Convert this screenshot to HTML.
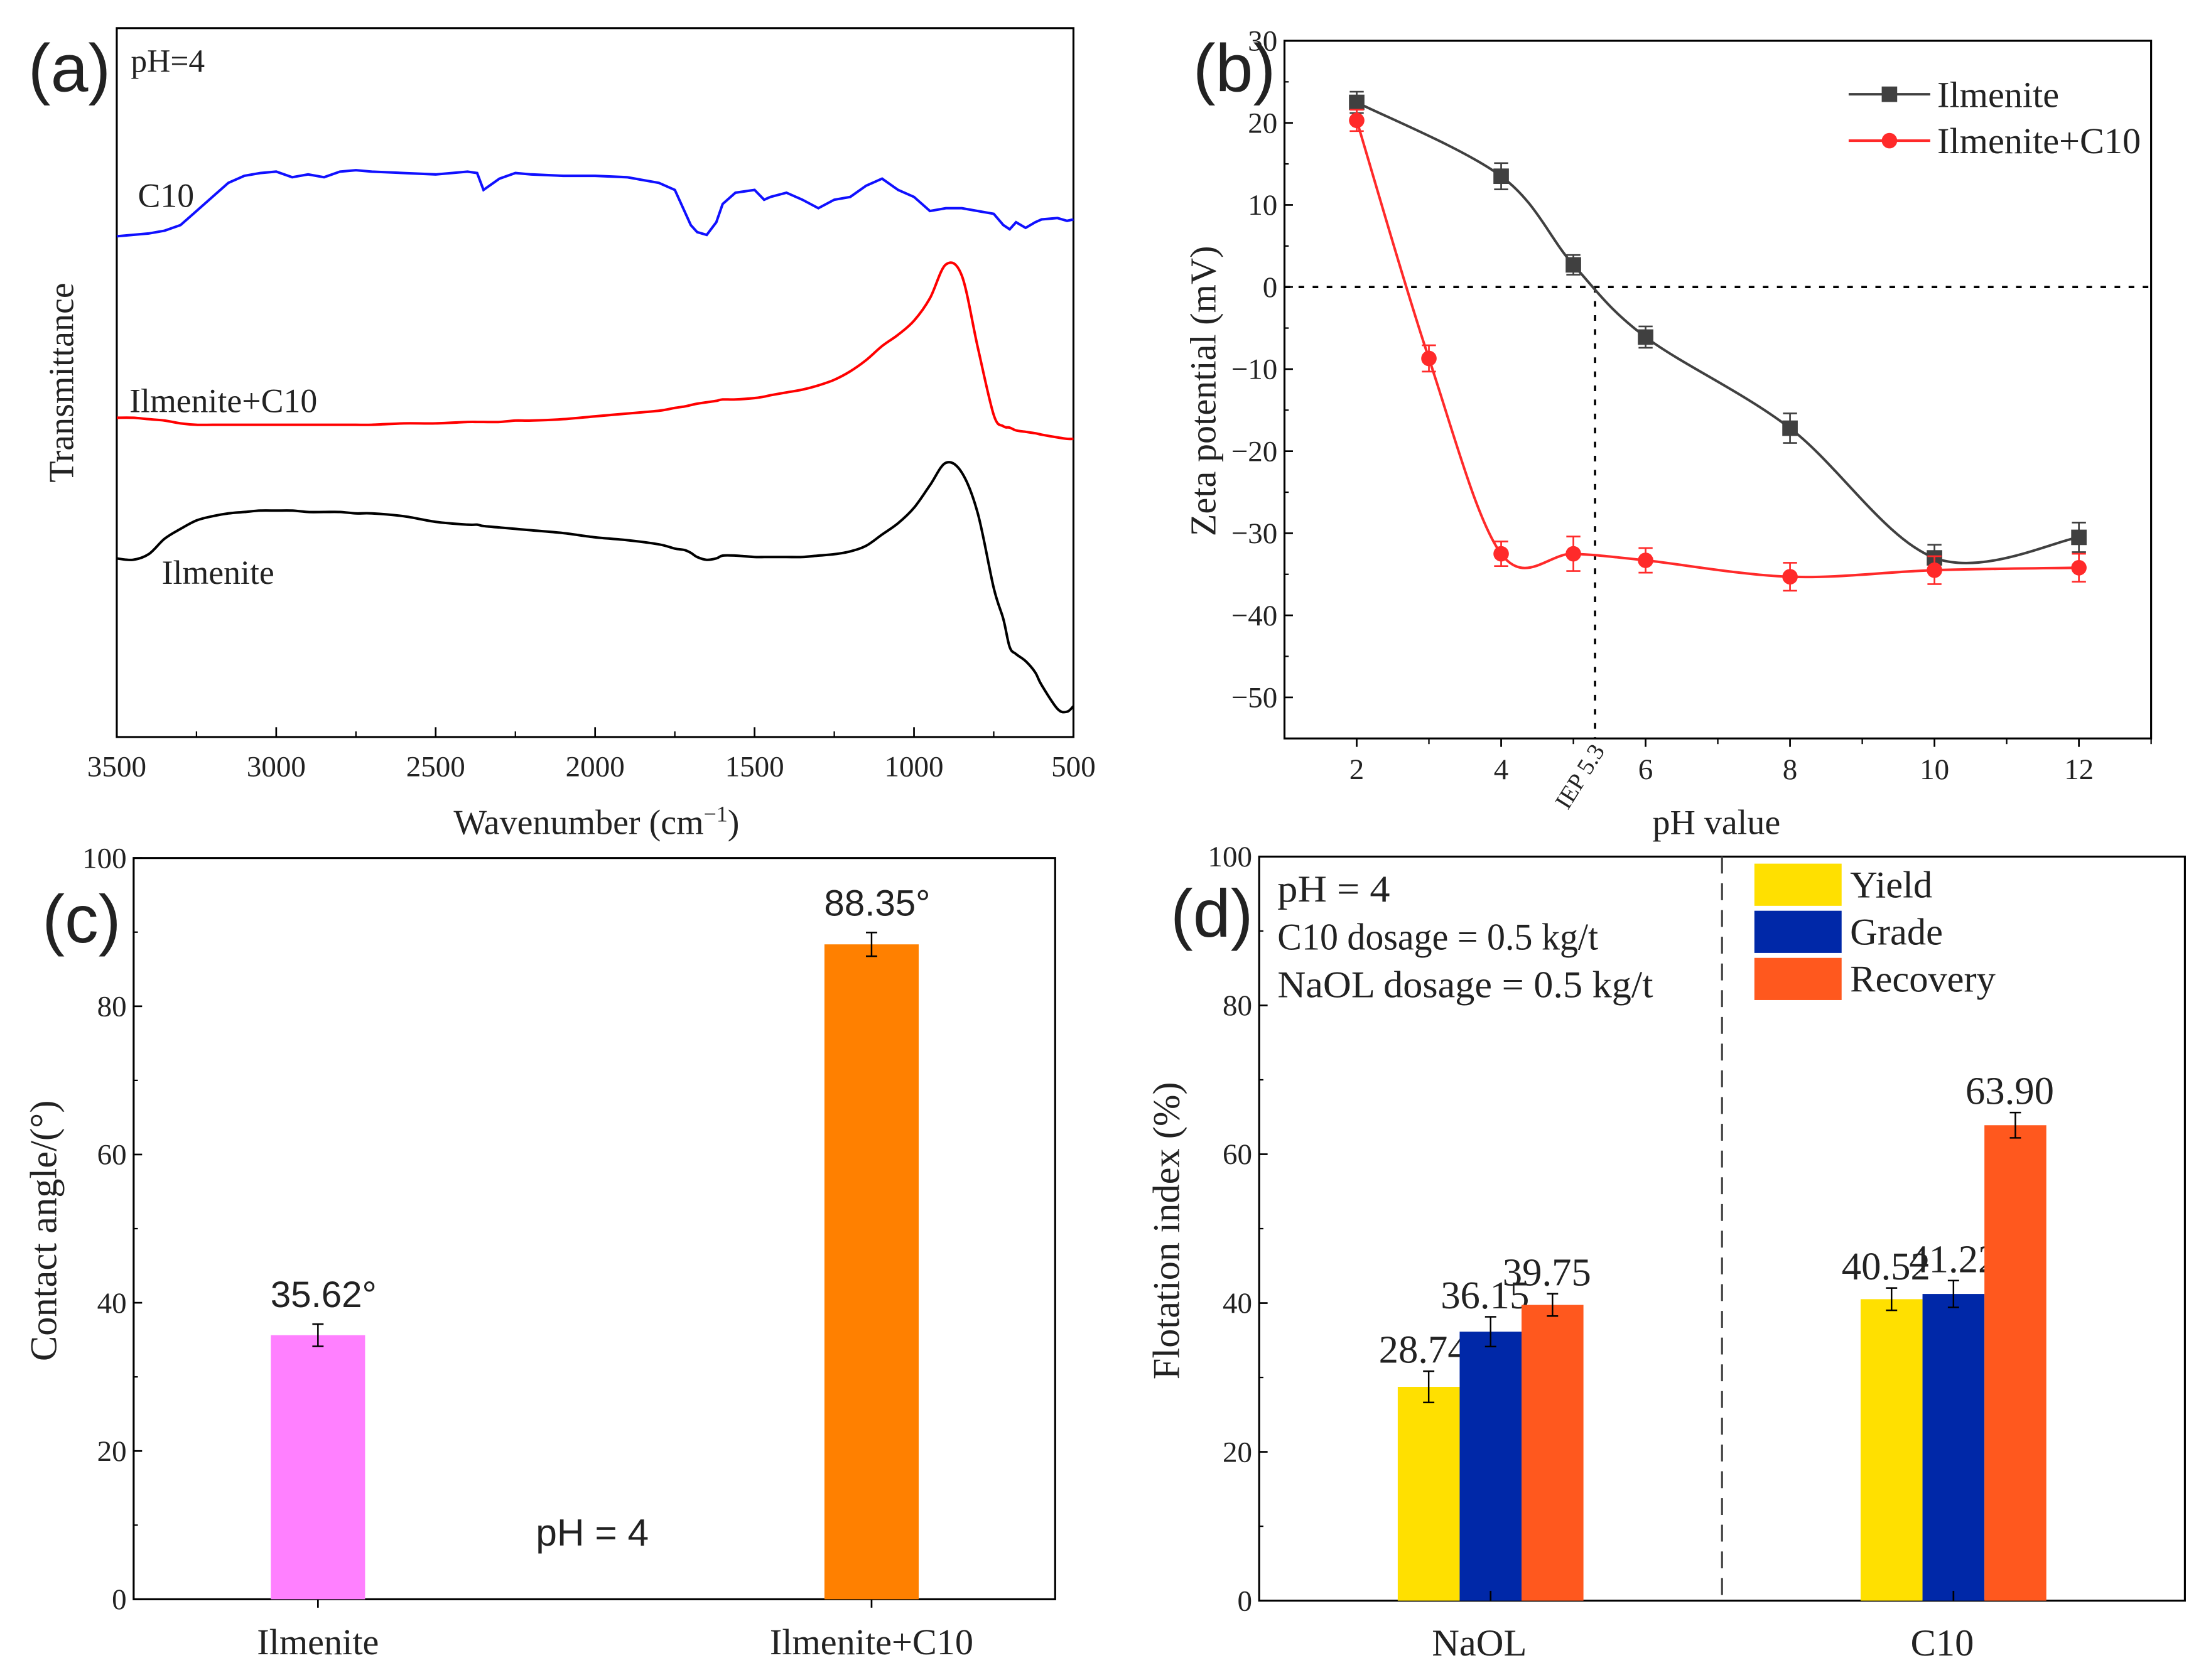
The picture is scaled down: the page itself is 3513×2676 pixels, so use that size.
<!DOCTYPE html>
<html><head><meta charset="utf-8"><style>
html,body{margin:0;padding:0;background:#fff}
svg{display:block}
text{font-family:"Liberation Serif",serif;fill:#222}
.sans{font-family:"Liberation Sans",sans-serif}
</style></head><body>
<svg id="fig" width="3513" height="2676" viewBox="0 0 1568 1194.4" xmlns="http://www.w3.org/2000/svg">
<rect width="1568" height="1194.4" fill="#fff"/>
<g id="pa"></g>
<g id="pb"></g>
<g id="pc"></g>
<g id="pd"></g>
</svg>
<script>
// ---- Panel a data ----
const ftirWave = [3500,3450,3400,3350,3300,3250,3200,3150,3100,3050,3000,2950,2900,2850,2800,2750,2700,2600,2500,2400,2370,2350,2300,2250,2200,2100,2000,1900,1800,1750,1720,1700,1680,1650,1620,1600,1560,1500,1470,1450,1400,1350,1300,1250,1200,1150,1100,1050,1000,950,900,850,800,750,720,700,680,650,620,600,550,520,500];
const c10Spec  = [168,167,166,164,160,150,140,130,125,123,122,126,124,126,122,121,122,123,124,122,123,135,127,123,124,125,125,126,130,135,150,160,165,167,158,145,137,135,142,140,137,142,148,142,140,132,127,135,140,150,148,148,150,152,160,163,158,162,158,156,155,157,156];
const irC10Spec= [297,297,298,299,301,302,302,302,302,302,302,302,302,302,302,302,302,301,301,300,300,300,300,299,299,298,296,294,292,290,289,288,287,286,285,284,284,283,282,281,279,277,274,270,264,256,246,238,228,212,188,196,247,295,303,304,306,307,308,309,311,312,312];
const ilmSpec  = [397,398,394,383,376,370,367,365,364,363,363,363,364,364,364,365,365,367,371,373,373,374,375,376,377,379,382,384,387,390,391,393,396,398,397,395,395,396,396,396,396,396,395,394,392,388,380,372,361,345,329,336,365,418,440,460,465,470,478,487,504,506,502];
const ftirTicks = [3500,3000,2500,2000,1500,1000,500];
// ---- Panel b data ----
const pHIlm = [2,4,5,6,8,10,12];
const zetaIlm = [22.5,13.5,2.7,-6.1,-17.2,-33,-30.5];
const errIlm = [1.3,1.6,1.2,1.3,1.8,1.6,1.8];
const pHC10 = [2,3,4,5,6,8,10,12];
const zetaC10 = [20.3,-8.7,-32.5,-32.5,-33.3,-35.3,-34.5,-34.2];
const errC10 = [1.3,1.6,1.5,2.1,1.5,1.7,1.7,1.7];
const zetaTicks = [30,20,10,0,-10,-20,-30,-40,-50];
const pHTicks = [2,4,6,8,10,12];
const iep = 5.3;
// ---- Panel c data ----
const caCats = ["Ilmenite","Ilmenite+C10"];
const caVals = [35.62,88.35];
const caErr = [1.5,1.6];
const caLabels = ["35.62°","88.35°"];
const caColors = ["#ff80ff","#ff8000"];
// ---- Panel d data ----
const flCats = ["NaOL","C10"];
const flSeries = ["Yield","Grade","Recovery"];
const flYield = [28.74,40.52];
const flGrade = [36.15,41.22];
const flRecovery = [39.75,63.90];
const flErrYield = [2.1,1.5];
const flErrGrade = [2.0,1.8];
const flErrRecovery = [1.5,1.7];
const flColors = ["#ffe000","#0028a8","#ff581e"];
const pctTicks = [0,20,40,60,80,100];

const NS="http://www.w3.org/2000/svg";
function mk(parent,tag,attrs,txt){const e=document.createElementNS(NS,tag);for(const k in attrs)e.setAttribute(k,attrs[k]);if(txt!==undefined)e.textContent=txt;parent.appendChild(e);return e;}
function smooth(pts){let d="M"+pts[0][0]+","+pts[0][1];for(let i=0;i<pts.length-1;i++){const p0=pts[i-1]||pts[i],p1=pts[i],p2=pts[i+1],p3=pts[i+2]||p2;const c1=[p1[0]+(p2[0]-p0[0])/6,p1[1]+(p2[1]-p0[1])/6],c2=[p2[0]-(p3[0]-p1[0])/6,p2[1]-(p3[1]-p1[1])/6];d+=" C"+c1+" "+c2+" "+p2;}return d;}

// ===== Panel a =====
(function(){
const g=document.getElementById('pa');
const L=83,R=763,T=20,B=524;
const xs=w=>L+(3500-w)/3000*(R-L);
let e;
e=mk(g,'rect',{x:L,y:T,width:R-L,height:B-T,fill:'none',stroke:'#000','stroke-width':1.4});

ftirTicks.forEach(t=>{
 e=mk(g,'line',{x1:xs(t),x2:xs(t),y1:B,y2:B-7,stroke:'#000','stroke-width':1.2});
 
 if(t>500){
 e=mk(g,'line',{x1:xs(t-250),x2:xs(t-250),y1:B,y2:B-4,stroke:'#000','stroke-width':1});
 }
 e=mk(g,'text',{x:xs(t),y:B+28,'text-anchor':'middle','font-size':21},String(t));
 
});
const series=[[c10Spec,'#1010ff','spectrum-c10'],[irC10Spec,'#ff0000','spectrum-ilmenite-c10'],[ilmSpec,'#000','spectrum-ilmenite']];
series.forEach(s=>{
 const pts=ftirWave.map((w,i)=>[xs(w),s[0][i]]);
 e=mk(g,'path',{d:s[0]===c10Spec?("M"+pts.map(p=>p.join(",")).join(" L")):smooth(pts),fill:'none',stroke:s[1],'stroke-width':1.8});
 
});
e=mk(g,'text',{x:98,y:147,'font-size':24},'C10');
e=mk(g,'text',{x:92,y:293,'font-size':24},'Ilmenite+C10');
e=mk(g,'text',{x:115,y:415,'font-size':24},'Ilmenite');
e=mk(g,'text',{x:93,y:51,'font-size':23},'pH=4');
e=mk(g,'text',{x:20,y:65,'font-size':48,class:'sans'},'(a)');
e=mk(g,'text',{x:0,y:0,'font-size':25,'text-anchor':'middle',transform:'translate(52,272) rotate(-90)'},'Transmittance');
e=mk(g,'text',{x:424,y:593,'font-size':25,'text-anchor':'middle'},'Wavenumber (cm');
mk(e,'tspan',{dy:-9,'font-size':16},'−1');mk(e,'tspan',{dy:9},')');
})();

// ===== Panel b =====
(function(){
const g=document.getElementById('pb');
const L=913,R=1529,T=29,B=525;
const xs=v=>L+(v-1)/12*(R-L), ys=v=>T+(30-v)/85*(B-T);
let e;
e=mk(g,'rect',{x:L,y:T,width:R-L,height:B-T,fill:'none',stroke:'#000','stroke-width':1.4});

zetaTicks.forEach(t=>{
 e=mk(g,'line',{x1:L,x2:L+6,y1:ys(t),y2:ys(t),stroke:'#000','stroke-width':1.2});
 e=mk(g,'line',{x1:L,x2:L+3,y1:ys(t-5),y2:ys(t-5),stroke:'#000','stroke-width':1});
 e=mk(g,'text',{x:L-5,y:ys(t)+7,'text-anchor':'end','font-size':21},t<0?'−'+(-t):String(t));
});
pHTicks.forEach(t=>{
 e=mk(g,'line',{x1:xs(t),x2:xs(t),y1:B,y2:B+6,stroke:'#000','stroke-width':1.2});
 e=mk(g,'line',{x1:xs(t+1),x2:xs(t+1),y1:B,y2:B+4,stroke:'#000','stroke-width':1});
 e=mk(g,'text',{x:xs(t),y:B+29,'text-anchor':'middle','font-size':21},String(t));
});
e=mk(g,'line',{x1:L,x2:R,y1:ys(0),y2:ys(0),stroke:'#000','stroke-width':1.6,'stroke-dasharray':'4,6'});
e=mk(g,'line',{x1:xs(iep),x2:xs(iep),y1:ys(0),y2:B,stroke:'#000','stroke-width':1.6,'stroke-dasharray':'4,6'});
e=mk(g,'text',{x:0,y:0,'font-size':17,'text-anchor':'middle',transform:`translate(${xs(iep)-6},${B+30}) rotate(-58)`},'IEP 5.3');
const sets=[[pHIlm,zetaIlm,errIlm,'#404040','rect','series-ilmenite'],[pHC10,zetaC10,errC10,'#ff2a2a','circle','series-ilmenite-c10']];
sets.forEach(s=>{
 const pts=s[0].map((p,i)=>[xs(p),ys(s[1][i])]);
 e=mk(g,'path',{d:smooth(pts),fill:'none',stroke:s[3],'stroke-width':1.8});
 s[0].forEach((p,i)=>{
  const x=xs(p),y1=ys(s[1][i]+s[2][i]),y2=ys(s[1][i]-s[2][i]);
  e=mk(g,'path',{d:`M${x},${y1}V${y2}M${x-5},${y1}H${x+5}M${x-5},${y2}H${x+5}`,stroke:s[3],'stroke-width':1.2,fill:'none'});
  if(s[4]==='rect') e=mk(g,'rect',{x:x-5.5,y:ys(s[1][i])-5.5,width:11,height:11,fill:s[3]});
  else e=mk(g,'circle',{cx:x,cy:ys(s[1][i]),r:5.5,fill:s[3]});
  
 });
});
[['Ilmenite','#404040','rect',67],['Ilmenite+C10','#ff2a2a','circle',100]].forEach(l=>{
 e=mk(g,'line',{x1:1314,x2:1372,y1:l[3],y2:l[3],stroke:l[1],'stroke-width':1.8});
 if(l[2]==='rect') e=mk(g,'rect',{x:1337.5,y:l[3]-5.5,width:11,height:11,fill:l[1]}); else e=mk(g,'circle',{cx:1343,cy:l[3],r:5.5,fill:l[1]});
 
 e=mk(g,'text',{x:1377,y:l[3]+9,'font-size':26},l[0]);
});
e=mk(g,'text',{x:848,y:65,'font-size':48,class:'sans'},'(b)');
e=mk(g,'text',{x:0,y:0,'font-size':26,'text-anchor':'middle',transform:'translate(864,278) rotate(-90)'},'Zeta potential (mV)');
e=mk(g,'text',{x:1220,y:593,'font-size':25,'text-anchor':'middle'},'pH value');
})();

// ===== Panel c =====
(function(){
const g=document.getElementById('pc');
const L=95,R=750,T=610,B=1137;
const ys=v=>B-v/100*(B-T);
const cx=[226,619.5];
let e;
e=mk(g,'rect',{x:L,y:T,width:R-L,height:B-T,fill:'none',stroke:'#000','stroke-width':1.4});
pctTicks.forEach(t=>{
 e=mk(g,'line',{x1:L,x2:L+6,y1:ys(t),y2:ys(t),stroke:'#000','stroke-width':1.2});
 if(t<100){e=mk(g,'line',{x1:L,x2:L+3,y1:ys(t+10),y2:ys(t+10),stroke:'#000','stroke-width':1});}
 e=mk(g,'text',{x:L-5,y:ys(t)+7,'text-anchor':'end','font-size':21},String(t));
});
caCats.forEach((c,i)=>{
 e=mk(g,'rect',{x:cx[i]-33.5,y:ys(caVals[i]),width:67,height:B-ys(caVals[i]),fill:caColors[i]});
 const y1=ys(caVals[i]+caErr[i]),y2=ys(caVals[i]-caErr[i]);
 e=mk(g,'path',{d:`M${cx[i]},${y1}V${y2}M${cx[i]-4},${y1}H${cx[i]+4}M${cx[i]-4},${y2}H${cx[i]+4}`,stroke:'#000','stroke-width':1.1,fill:'none'});
 e=mk(g,'line',{x1:cx[i],x2:cx[i],y1:B,y2:B+6,stroke:'#000','stroke-width':1.2});
 e=mk(g,'text',{x:cx[i]+4,y:ys(caVals[i]+caErr[i])-12,'text-anchor':'middle','font-size':26,class:'sans'},caLabels[i]);
 e=mk(g,'text',{x:cx[i],y:1176,'text-anchor':'middle','font-size':26},c);
});
e=mk(g,'text',{x:421,y:1099,'text-anchor':'middle','font-size':27,class:'sans'},'pH = 4');
e=mk(g,'text',{x:30,y:670,'font-size':48,class:'sans'},'(c)');
e=mk(g,'text',{x:0,y:0,'font-size':27,'text-anchor':'middle',transform:'translate(40,875) rotate(-90)'},'Contact angle/(°)');
})();

// ===== Panel d =====
(function(){
const g=document.getElementById('pd');
const L=895,R=1553,T=609,B=1138;
const ys=v=>B-v/100*(B-T);
const gc=[1059.5,1388.5], bw=44;
const vals=[flYield,flGrade,flRecovery], errs=[flErrYield,flErrGrade,flErrRecovery];
let e;
e=mk(g,'rect',{x:L,y:T,width:R-L,height:B-T,fill:'none',stroke:'#000','stroke-width':1.4});
pctTicks.forEach(t=>{
 e=mk(g,'line',{x1:L,x2:L+6,y1:ys(t),y2:ys(t),stroke:'#000','stroke-width':1.2});
 if(t<100){e=mk(g,'line',{x1:L,x2:L+3,y1:ys(t+10),y2:ys(t+10),stroke:'#000','stroke-width':1});}
 e=mk(g,'text',{x:L-5,y:ys(t)+7,'text-anchor':'end','font-size':21},String(t));
});
e=mk(g,'line',{x1:1224,x2:1224,y1:T,y2:B,stroke:'#444','stroke-width':1.4,'stroke-dasharray':'12,7'});
flCats.forEach((c,ci)=>{
 flSeries.forEach((s,si)=>{
  const x0=gc[ci]+(si-1.5)*bw, xm=x0+bw/2, v=vals[si][ci], er=errs[si][ci];
  e=mk(g,'rect',{x:x0,y:ys(v),width:bw,height:B-ys(v),fill:flColors[si]});
  const y1=ys(v+er),y2=ys(v-er);
  e=mk(g,'path',{d:`M${xm},${y1}V${y2}M${xm-4},${y1}H${xm+4}M${xm-4},${y2}H${xm+4}`,stroke:'#000','stroke-width':1.1,fill:'none'});
  e=mk(g,'text',{x:xm-4+(si===1&&ci===1?4:0),y:y1-6,'text-anchor':'middle','font-size':28},v.toFixed(2));
 });
 e=mk(g,'line',{x1:gc[ci],x2:gc[ci],y1:B,y2:B-7,stroke:'#000','stroke-width':1.2});
 e=mk(g,'text',{x:gc[ci]-8,y:1177,'text-anchor':'middle','font-size':27},c);
});
flSeries.forEach((s,si)=>{
 const y=614+si*33.5;
 e=mk(g,'rect',{x:1247,y:y,width:62,height:30,fill:flColors[si]});
 e=mk(g,'text',{x:1315,y:y+24,'font-size':27},s);
});
['pH = 4','C10 dosage = 0.5 kg/t','NaOL dosage = 0.5 kg/t'].forEach((t,i)=>{
 e=mk(g,'text',{x:908,y:641+i*34,'font-size':27,textLength:[80,228,267][i],lengthAdjust:'spacingAndGlyphs'},t);
});
e=mk(g,'text',{x:832,y:666,'font-size':48,class:'sans'},'(d)');
e=mk(g,'text',{x:0,y:0,'font-size':27,'text-anchor':'middle',transform:'translate(838,875) rotate(-90)'},'Flotation index (%)');
})();
</script>
</body></html>
